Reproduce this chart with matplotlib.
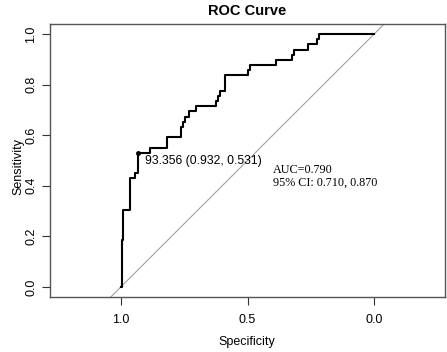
import numpy as np
import matplotlib.pyplot as plt

# ROC curve corner points (specificity, sensitivity)
specificity = [1.0, 0.997, 0.991, 0.964, 0.945, 0.932, 0.885, 0.817, 0.762, 0.755,
               0.745, 0.732, 0.705, 0.625, 0.617, 0.610, 0.590, 0.500, 0.490, 0.387,
               0.325, 0.318, 0.260, 0.224, 0.216, 0.0]
sensitivity = [0.0, 0.184, 0.306, 0.429, 0.449, 0.531, 0.551, 0.592, 0.633, 0.653,
               0.673, 0.694, 0.714, 0.735, 0.755, 0.776, 0.837, 0.857, 0.878, 0.898,
               0.918, 0.939, 0.959, 0.980, 1.0, 1.0]

best_thres = 93.356
best_spec = 0.932
best_sens = 0.531
auc = 0.790
ci = (0.710, 0.870)

plt.rcParams['font.family'] = 'Liberation Sans'

fig = plt.figure(figsize=(4.47, 3.52), dpi=100)
ax = fig.add_axes([50 / 447, 55 / 352, 395 / 447, 273 / 352])

# diagonal reference line
ax.plot([1.1, -0.1], [-0.1, 1.1], color='#a0a0a0', lw=0.8)
ax.plot(specificity, sensitivity, drawstyle='steps-post', color='black', lw=1.5)

# best threshold
ax.plot([best_spec], [best_sens], 'o', color='black', ms=2.5)
ax.annotate('%.3f (%.3f, %.3f)' % (best_thres, best_spec, best_sens),
            xy=(best_spec, best_sens), xytext=(5, -6), textcoords='offset points',
            ha='left', va='center', fontsize=8.8)

ax.text(0.398, 0.464, 'AUC=%.3f' % auc, family='Liberation Serif', fontsize=8.7,
        ha='left', va='center')
ax.text(0.398, 0.414, '95%% CI: %.3f, %.3f' % ci, family='Liberation Serif', fontsize=8.7,
        ha='left', va='center')

ax.set_xlim(1.28, -0.28)
ax.set_ylim(-0.04, 1.04)
ax.set_xticks([1.0, 0.5, 0.0])
ax.set_yticks([0.0, 0.2, 0.4, 0.6, 0.8, 1.0])
ax.set_xticklabels(['1.0', '0.5', '0.0'])
ax.set_yticklabels(['0.0', '0.2', '0.4', '0.6', '0.8', '1.0'], rotation=90, va='center')
ax.tick_params(length=6, width=0.8, color='#333333', labelsize=9)
ax.tick_params(axis='x', pad=6)
ax.tick_params(axis='y', pad=3)

for s in ax.spines.values():
    s.set_color('#555555')
    s.set_linewidth(1.0)

fig.text(247 / 447, 1 - 342 / 352, 'Specificity', ha='center', va='center', fontsize=9)
fig.text(18 / 447, 1 - 166 / 352, 'Sensitivity', ha='center', va='center',
         rotation=90, fontsize=9)
fig.text(247.5 / 447, 1 - 11 / 352, 'ROC Curve', ha='center', va='center',
         fontsize=10.5, fontweight='bold')

plt.savefig('out.png', dpi=100)
